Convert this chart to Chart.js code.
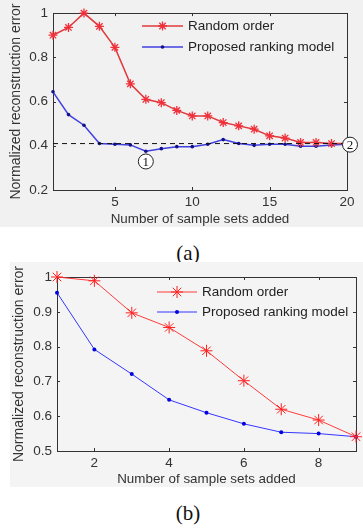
<!DOCTYPE html>
<html>
<head>
<meta charset="utf-8">
<script src="https://cdn.jsdelivr.net/npm/chart.js@4.4.0/dist/chart.umd.min.js"></script>
<style>
  body { margin: 0; width: 363px; height: 529px; background: #fff; position: relative; overflow: hidden; }
  .panel { position: absolute; }
  #panelA { left: 0; top: 0; width: 363px; height: 227px; background: #f1f1f1; }
  #panelB { left: 10px; top: 262px; width: 353px; height: 225px; background: #f4f4f4; }
  .cap { position: absolute; font-family: 'Liberation Serif', serif; font-size: 21px; color: #111; transform: translate(-50%, -50%); }
</style>
</head>
<body>
<div class="panel" id="panelA"><canvas id="chartA" width="363" height="227"></canvas></div>
<div class="cap" style="left:188px; top:253px">(a)</div>
<div class="panel" id="panelB"><canvas id="chartB" width="353" height="225"></canvas></div>
<div class="cap" style="left:188px; top:513px">(b)</div>
<script>
// (a) 20 sample sets
const setsA = [1, 2, 3, 4, 5, 6, 7, 8, 9, 10, 11, 12, 13, 14, 15, 16, 17, 18, 19, 20];
const randomA = [0.90, 0.935, 1.0, 0.94, 0.845, 0.68, 0.61, 0.595, 0.56, 0.535, 0.535, 0.505, 0.49, 0.475, 0.445, 0.435, 0.415, 0.415, 0.41, 0.41];
const rankingA = [0.644, 0.541, 0.493, 0.41, 0.407, 0.404, 0.375, 0.387, 0.396, 0.396, 0.407, 0.428, 0.41, 0.402, 0.407, 0.407, 0.398, 0.398, 0.404, 0.407];
const levelA = 0.41;
const xTicksA = [5, 10, 15, 20];
const yTicksA = [0.2, 0.4, 0.6, 0.8, 1];

// (b) 9 sample sets
const setsB = [1, 2, 3, 4, 5, 6, 7, 8, 9];
const randomB = [1.0, 0.989, 0.897, 0.855, 0.788, 0.702, 0.62, 0.589, 0.541];
const rankingB = [0.955, 0.792, 0.721, 0.647, 0.61, 0.578, 0.554, 0.55, 0.541];
const xTicksB = [2, 4, 6, 8];
const yTicksB = [0.5, 0.6, 0.7, 0.8, 0.9, 1];

const labels = ['Random order', 'Proposed ranking model'];
const xTitle = 'Number of sample sets added';
const yTitle = 'Normalized reconstruction error';

const FONT = 'Liberation Sans, Arial, sans-serif';
const pairs = (xs, ys) => xs.map((x, i) => ({ x: x, y: ys[i] }));

// axes box with inward ticks, legend and circled labels
const matlabPlugin = {
  id: 'matlab',
  beforeDatasetsDraw(chart, args, opts) {
    const ctx = chart.ctx, a = chart.chartArea;
    const sx = chart.scales.x, sy = chart.scales.y;
    ctx.save();
    ctx.strokeStyle = '#333';
    ctx.lineWidth = 1;
    ctx.strokeRect(Math.round(a.left) + 0.5, Math.round(a.top) + 0.5, Math.round(a.right - a.left), Math.round(a.bottom - a.top));
    ctx.beginPath();
    sx.ticks.forEach(t => {
      const px = Math.round(sx.getPixelForValue(t.value)) + 0.5;
      ctx.moveTo(px, a.bottom); ctx.lineTo(px, a.bottom - 3);
      ctx.moveTo(px, a.top); ctx.lineTo(px, a.top + 3);
    });
    sy.ticks.forEach(t => {
      const py = Math.round(sy.getPixelForValue(t.value)) + 0.5;
      ctx.moveTo(a.left, py); ctx.lineTo(a.left + 3, py);
      ctx.moveTo(a.right, py); ctx.lineTo(a.right - 3, py);
    });
    ctx.stroke();
    ctx.restore();
  },
  afterDraw(chart, args, opts) {
    const ctx = chart.ctx;
    ctx.save();
    const lg = opts.legend;
    let row = 0;
    chart.data.datasets.forEach(ds => {
      if (!ds.label) return;
      const y = lg.y + row * lg.gap;
      ctx.strokeStyle = ds.borderColor;
      ctx.lineWidth = ds.borderWidth;
      ctx.beginPath();
      ctx.moveTo(lg.x, y); ctx.lineTo(lg.x + lg.len, y);
      ctx.stroke();
      ctx.fillStyle = ds.pointBackgroundColor;
      ctx.strokeStyle = ds.pointBorderColor;
      ctx.lineWidth = ds.pointBorderWidth;
      Chart.helpers.drawPoint(ctx, { pointStyle: ds.pointStyle, radius: ds.pointRadius, rotation: 0, borderWidth: ds.pointBorderWidth }, lg.x + lg.len / 2, y);
      ctx.fillStyle = '#222';
      ctx.font = '13.5px ' + FONT;
      ctx.textBaseline = 'middle';
      ctx.fillText(ds.label, lg.x + lg.len + 5, y);
      row++;
    });
    (opts.marks || []).forEach(m => {
      const px = chart.scales.x.getPixelForValue(m.x) + m.dx;
      const py = chart.scales.y.getPixelForValue(m.y);
      ctx.beginPath();
      ctx.arc(px, py, 7.5, 0, Math.PI * 2);
      ctx.fillStyle = '#fff';
      ctx.fill();
      ctx.strokeStyle = '#222';
      ctx.lineWidth = 1;
      ctx.stroke();
      ctx.fillStyle = '#111';
      ctx.font = '13px Liberation Serif, serif';
      ctx.textAlign = 'center';
      ctx.textBaseline = 'middle';
      ctx.fillText(m.text, px, py + 1);
    });
    ctx.restore();
  }
};

function axes(xMin, xMax, xTicks, yMin, yMax, yTicks, yWidth, xHeight, xPad, yTitlePad) {
  return {
    x: {
      type: 'linear', min: xMin, max: xMax,
      grid: { display: false, drawTicks: false }, border: { display: false },
      afterBuildTicks: s => { s.ticks = xTicks.map(v => ({ value: v })); },
      afterFit: s => { s.height = xHeight; },
      ticks: { color: '#333', font: { family: FONT, size: 13.5 }, padding: xPad, maxRotation: 0 },
      title: { display: true, text: xTitle, color: '#333', font: { family: FONT, size: 13.4 }, padding: { top: 0, bottom: 0 } }
    },
    y: {
      type: 'linear', min: yMin, max: yMax,
      grid: { display: false, drawTicks: false }, border: { display: false },
      afterBuildTicks: s => { s.ticks = yTicks.map(v => ({ value: v })); },
      afterFit: s => { s.width = yWidth; },
      ticks: { color: '#333', font: { family: FONT, size: 13.5 }, padding: 5, callback: v => String(+v.toFixed(1)) },
      title: { display: true, text: yTitle, color: '#333', font: { family: FONT, size: 14 }, padding: { top: yTitlePad, bottom: 0 } }
    }
  };
}

new Chart(document.getElementById('chartA'), {
  type: 'line',
  data: {
    datasets: [
      {
        data: pairs([setsA[0], setsA[setsA.length - 1]], [levelA, levelA]),
        borderColor: '#111', borderWidth: 1, borderDash: [5, 4], pointRadius: 0, clip: false
      },
      {
        label: labels[0], data: pairs(setsA, randomA),
        borderColor: '#e0393c', borderWidth: 1.5,
        pointStyle: 'star', pointRadius: 4.5, pointBorderWidth: 1.3,
        pointBorderColor: '#f0303a', pointBackgroundColor: '#f0303a', clip: false
      },
      {
        label: labels[1], data: pairs(setsA, rankingA),
        borderColor: '#4040e0', borderWidth: 1.5,
        pointStyle: 'circle', pointRadius: 1.8, pointBorderWidth: 0,
        pointBorderColor: '#10108a', pointBackgroundColor: '#10108a', clip: false
      }
    ]
  },
  options: {
    responsive: false, animation: false,
    layout: { padding: { top: 10, right: 16, left: 0, bottom: 0 } },
    scales: axes(1, 20, xTicksA, 0.2, 1, yTicksA, 53, 37, 4, 8),
    plugins: {
      legend: { display: false }, tooltip: { enabled: false },
      matlab: {
        legend: { x: 142, y: 26, gap: 21, len: 41 },
        marks: [{ text: '1', x: 7, y: 0.329, dx: 0 }, { text: '2', x: 20, y: 0.405, dx: 3 }]
      }
    }
  },
  plugins: [matlabPlugin]
});

new Chart(document.getElementById('chartB'), {
  type: 'line',
  data: {
    datasets: [
      {
        label: labels[0], data: pairs(setsB, randomB),
        borderColor: '#ff3b3b', borderWidth: 1,
        pointStyle: 'star', pointRadius: 6, pointBorderWidth: 1,
        pointBorderColor: '#ff2020', pointBackgroundColor: '#ff2020', clip: false
      },
      {
        label: labels[1], data: pairs(setsB, rankingB),
        borderColor: '#3535ff', borderWidth: 1,
        pointStyle: 'circle', pointRadius: 2, pointBorderWidth: 0,
        pointBorderColor: '#0000e0', pointBackgroundColor: '#0000e0', clip: false
      }
    ]
  },
  options: {
    responsive: false, animation: false,
    layout: { padding: { top: 15, right: 5, left: 0, bottom: 0 } },
    scales: axes(1, 9, xTicksB, 0.5, 1, yTicksB, 47, 36, 4, 1),
    plugins: {
      legend: { display: false }, tooltip: { enabled: false },
      matlab: { legend: { x: 147, y: 30, gap: 20, len: 40 }, marks: [] }
    }
  },
  plugins: [matlabPlugin]
});
</script>
</body>
</html>
